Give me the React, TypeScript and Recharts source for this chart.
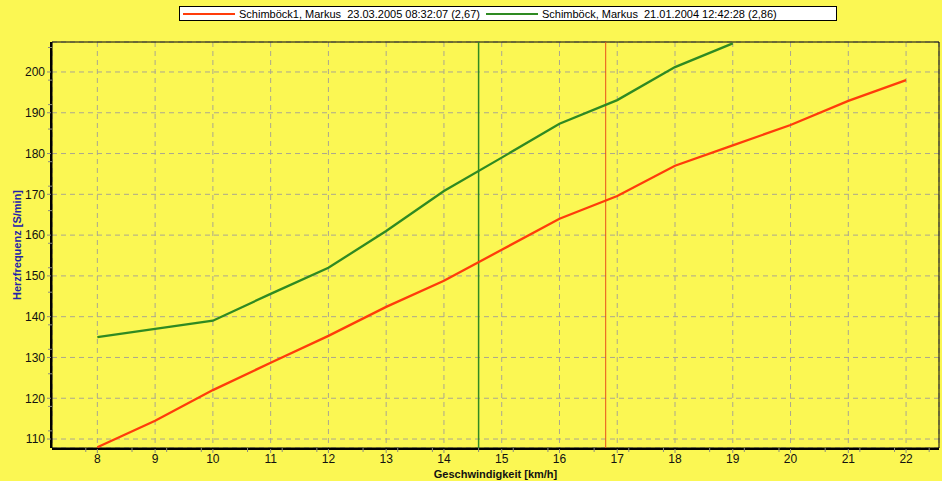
import React from 'react';
import { ComposedChart, Line, XAxis, YAxis, CartesianGrid, ReferenceLine, ReferenceArea, Legend } from 'recharts';

const speedsRed = [8, 9, 10, 11, 12, 13, 14, 15, 16, 17, 18, 19, 20, 21, 22];
const hrRed = [108, 114.5, 122, 128.7, 135.3, 142.4, 148.8, 156.4, 164, 169.6, 177, 182, 187, 192.9, 198];
const speedsGreen = [8, 9, 10, 11, 12, 13, 14, 15, 16, 17, 18, 19];
const hrGreen = [135, 137, 139, 145.6, 152, 161, 170.8, 179, 187.3, 193.1, 201.2, 207];

const xTicks = [8, 9, 10, 11, 12, 13, 14, 15, 16, 17, 18, 19, 20, 21, 22];
const xMinorTicks = [7.4, 7.6, 7.8, 8.2, 8.4, 8.6, 8.8, 9.2, 9.4, 9.6, 9.8, 10.2, 10.4, 10.6, 10.8, 11.2, 11.4, 11.6, 11.8, 12.2, 12.4, 12.6, 12.8, 13.2, 13.4, 13.6, 13.8, 14.2, 14.4, 14.6, 14.8, 15.2, 15.4, 15.6, 15.8, 16.2, 16.4, 16.6, 16.8, 17.2, 17.4, 17.6, 17.8, 18.2, 18.4, 18.6, 18.8, 19.2, 19.4, 19.6, 19.8, 20.2, 20.4, 20.6, 20.8, 21.2, 21.4, 21.6, 21.8, 22.2, 22.4];
const yTicks = [110, 120, 130, 140, 150, 160, 170, 180, 190, 200];
const yMinorTicks = [108, 112, 114, 116, 118, 122, 124, 126, 128, 132, 134, 136, 138, 142, 144, 146, 148, 152, 154, 156, 158, 162, 164, 166, 168, 172, 174, 176, 178, 182, 184, 186, 188, 192, 194, 196, 198, 202, 204, 206];

const seriesNames = [
  'Schimböck1, Markus  23.03.2005 08:32:07 (2,67)',
  'Schimböck, Markus  21.01.2004 12:42:28 (2,86)',
];
const markerRed = 16.8;
const markerGreen = 14.6;

const X_DOMAIN: [number, number] = [7.215, 22.57];
const Y_DOMAIN: [number, number] = [107.8, 207.35];

const RED = '#FF3C0A';
const GREEN = '#2F8A22';
const BG = '#FBF753';
const FONT = '"Liberation Sans", Arial, sans-serif';

const MAJOR = 'b-major';
const MINOR = 'a-minor';

const redData = speedsRed.map((x, i) => ({ x, y: hrRed[i] }));
const greenData = speedsGreen.map((x, i) => ({ x, y: hrGreen[i] }));

const EmptyTick = () => <g />;

const LegendBox = () => (
  <div
    style={{
      background: '#fff',
      border: '1px solid #000',
      height: 15,
      width: 658,
      boxSizing: 'border-box',
      display: 'flex',
      alignItems: 'center',
      fontFamily: FONT,
      fontSize: 11,
      color: '#000',
      whiteSpace: 'pre',
    }}
  >
    <span style={{ display: 'inline-block', width: 52, height: 2, background: RED, marginLeft: 3, marginRight: 4 }} />
    <span>{seriesNames[0]}</span>
    <span style={{ display: 'inline-block', width: 52, height: 2, background: GREEN, marginLeft: 6, marginRight: 4 }} />
    <span>{seriesNames[1]}</span>
  </div>
);

export default function App() {
  return (
    <div style={{ position: 'absolute', left: 0, top: 0, width: 942, height: 481, background: BG }}>
      <ComposedChart width={942} height={481} margin={{ top: 42, right: 3, left: 0, bottom: 0 }}>
        <CartesianGrid xAxisId={MAJOR} yAxisId={MAJOR} stroke="#aba78e" strokeDasharray="5 4" />
        <ReferenceArea
          xAxisId={MAJOR}
          yAxisId={MAJOR}
          x1={X_DOMAIN[0]}
          x2={X_DOMAIN[1]}
          y1={Y_DOMAIN[0]}
          y2={Y_DOMAIN[1]}
          fill="none"
          stroke="#000"
          strokeWidth={1}
          fillOpacity={0}
        />
        <XAxis
          xAxisId={MAJOR}
          type="number"
          dataKey="x"
          domain={X_DOMAIN}
          ticks={xTicks}
          allowDataOverflow
          height={32}
          tickSize={4}
          tickMargin={1}
          tickLine={{ stroke: '#8a8a80' }}
          axisLine={{ stroke: '#000', strokeWidth: 2 }}
          tick={{ fill: '#111', fontSize: 12, fontFamily: FONT }}
          label={{
            value: 'Geschwindigkeit [km/h]',
            position: 'insideBottom',
            offset: 3,
            style: { fontWeight: 'bold', fontSize: 11, fill: '#111', fontFamily: FONT },
          }}
        />
        <YAxis
          yAxisId={MAJOR}
          type="number"
          domain={Y_DOMAIN}
          ticks={yTicks}
          allowDataOverflow
          width={51}
          tickSize={4}
          tickMargin={2}
          tickLine={{ stroke: '#8a8a80' }}
          axisLine={{ stroke: '#000', strokeWidth: 2 }}
          tick={{ fill: '#111', fontSize: 12, fontFamily: FONT }}
          label={{
            value: 'Herzfrequenz [S/min]',
            angle: -90,
            position: 'center',
            dx: -8,
            style: { fontWeight: 'bold', fontSize: 11, fill: '#2323a8', fontFamily: FONT, textAnchor: 'middle' },
          }}
        />
        <XAxis
          xAxisId={MINOR}
          type="number"
          dataKey="x"
          domain={X_DOMAIN}
          ticks={xMinorTicks}
          allowDataOverflow
          height={1}
          tick={<EmptyTick />}
          tickLine={{ stroke: '#8a8a80', strokeWidth: 1 }}
          tickSize={4}
          axisLine={false}
        />
        <YAxis
          yAxisId={MINOR}
          type="number"
          domain={Y_DOMAIN}
          ticks={yMinorTicks}
          allowDataOverflow
          width={1}
          tick={<EmptyTick />}
          tickLine={{ stroke: '#8a8a80', strokeWidth: 1 }}
          tickSize={4}
          axisLine={false}
        />
        <ReferenceLine xAxisId={MAJOR} yAxisId={MAJOR} x={markerGreen} stroke={GREEN} strokeWidth={1.5} />
        <ReferenceLine xAxisId={MAJOR} yAxisId={MAJOR} x={markerRed} stroke="#E8501A" strokeWidth={1} />
        <Line
          xAxisId={MAJOR}
          yAxisId={MAJOR}
          data={redData}
          dataKey="y"
          name={seriesNames[0]}
          type="linear"
          stroke={RED}
          strokeWidth={2.3}
          dot={false}
          isAnimationActive={false}
        />
        <Line
          xAxisId={MAJOR}
          yAxisId={MAJOR}
          data={greenData}
          dataKey="y"
          name={seriesNames[1]}
          type="linear"
          stroke={GREEN}
          strokeWidth={2.3}
          dot={false}
          isAnimationActive={false}
        />
        <Legend
          layout="horizontal"
          verticalAlign="middle"
          align="center"
          content={() => <LegendBox />}
          wrapperStyle={{ top: 6, left: 179, width: 658, height: 15 }}
        />
      </ComposedChart>
    </div>
  );
}
